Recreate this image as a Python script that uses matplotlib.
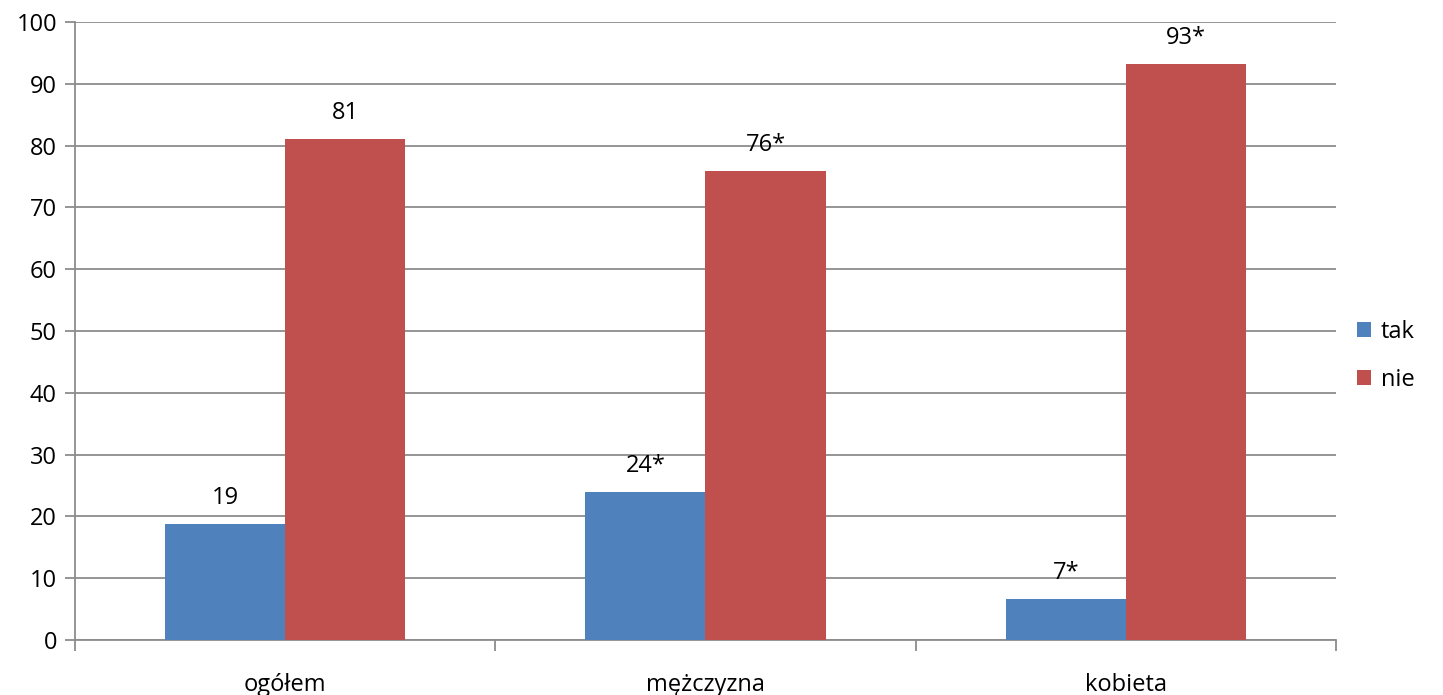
import matplotlib.pyplot as plt
import numpy as np

categories = ['ogółem', 'mężczyzna', 'kobieta']
tak = [18.8, 23.9, 6.6]
nie = [81.1, 75.9, 93.2]
tak_labels = ['19', '24*', '7*']
nie_labels = ['81', '76*', '93*']

BLUE = '#4F81BD'
RED = '#C0504D'
GRID = '#8C8C8C'


def main():
    plt.rcParams['font.family'] = ['Open Sans', 'DejaVu Sans']
    fig = plt.figure(figsize=(14.43, 6.95), dpi=100)
    ax = fig.add_axes([75 / 1443, 55 / 695, 1261 / 1443, 618 / 695])

    x = np.arange(len(categories))
    w = 0.2857
    b1 = ax.bar(x - w / 2, tak, w, color=BLUE, label='tak', zorder=3)
    b2 = ax.bar(x + w / 2, nie, w, color=RED, label='nie', zorder=3)

    for bars, labels in [(b1, tak_labels), (b2, nie_labels)]:
        for bar, lab in zip(bars, labels):
            ax.annotate(lab, (bar.get_x() + bar.get_width() / 2, bar.get_height()),
                        xytext=(0, 10), textcoords='offset points',
                        ha='center', va='bottom', fontsize=17)

    ax.set_xlim(-0.5, 2.5)
    ax.set_ylim(0, 100)
    ax.set_yticks(range(0, 101, 10))
    ax.yaxis.grid(True, color=GRID, linewidth=1.3, zorder=0)
    ax.tick_params(axis='y', length=7, color=GRID, width=1.3, labelsize=17, pad=6)

    ax.set_xticks(x)
    ax.set_xticklabels(categories)
    ax.set_xticks(np.arange(-0.5, 3, 1), minor=True)
    ax.tick_params(axis='x', which='major', length=0, labelsize=17, pad=24)
    ax.tick_params(axis='x', which='minor', length=8, color=GRID, width=1.3)

    for side in ['top', 'right']:
        ax.spines[side].set_visible(False)
    for side in ['left', 'bottom']:
        ax.spines[side].set_color(GRID)
        ax.spines[side].set_linewidth(1.3)

    ax.legend(loc='center left', bbox_to_anchor=(1.0, 0.46), frameon=False,
              fontsize=17, handlelength=0.6, handleheight=0.6,
              handletextpad=0.4, labelspacing=1.0, borderaxespad=0.5)

    fig.savefig('out.png', dpi=100)
    plt.close('all')


if __name__ == '__main__':
    main()
